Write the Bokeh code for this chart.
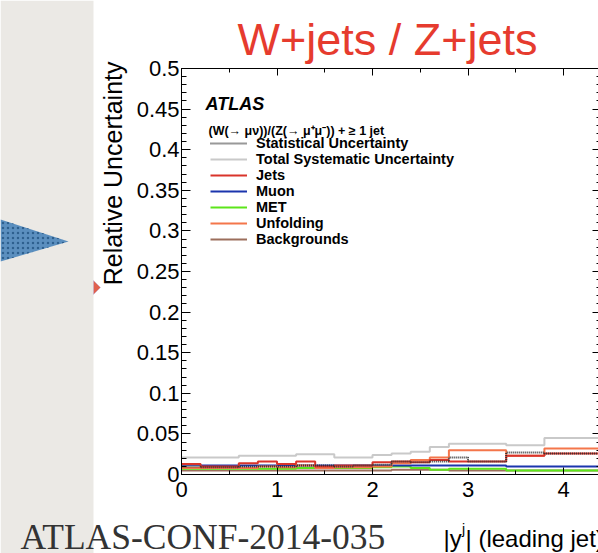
import numpy as np
from bokeh.plotting import figure
from bokeh.models import (LinearAxis, FixedTicker, Label, Legend, LegendItem,
                          BoxAnnotation, PolyAnnotation, Range1d)
from bokeh.embed import file_html
from bokeh.resources import INLINE

# ---------------- data ----------------
bin_edges = [0.0, 0.2, 0.4, 0.6, 0.8, 1.0, 1.2, 1.4, 1.6, 1.8, 2.0, 2.2, 2.4,
             2.6, 2.8, 3.0, 3.4, 3.8, 4.4]
stat_unc = [0.010, 0.009, 0.009, 0.010, 0.010, 0.010, 0.011, 0.011, 0.010,
            0.011, 0.012, 0.016, 0.015, 0.016, 0.021, 0.016, 0.027, 0.026]
total_syst = [0.021, 0.021, 0.021, 0.023, 0.023, 0.023, 0.025, 0.025, 0.021,
              0.021, 0.024, 0.026, 0.028, 0.034, 0.038, 0.038, 0.036, 0.045]
jets = [0.013, 0.010, 0.010, 0.014, 0.016, 0.013, 0.016, 0.010, 0.011,
        0.011, 0.015, 0.016, 0.015, 0.018, 0.016, 0.016, 0.023, 0.026]
muon = [0.012, 0.011, 0.011, 0.011, 0.011, 0.011, 0.011, 0.011, 0.011,
        0.011, 0.011, 0.011, 0.011, 0.011, 0.011, 0.011, 0.010, 0.010]
met = [0.007, 0.007, 0.007, 0.007, 0.007, 0.007, 0.008, 0.008, 0.008,
       0.008, 0.009, 0.010, 0.008, 0.006, 0.007, 0.007, 0.005, 0.005]
unfolding = [0.008, 0.008, 0.008, 0.008, 0.010, 0.009, 0.011, 0.008, 0.009,
             0.009, 0.010, 0.014, 0.018, 0.021, 0.030, 0.030, 0.023, 0.032]
backgrounds = [0.005, 0.005, 0.005, 0.005, 0.005, 0.005, 0.005, 0.005, 0.005,
               0.005, 0.005, 0.006, 0.006, 0.006, 0.005, 0.005, 0.005, 0.005]

series_labels = ["Statistical Uncertainty", "Total Systematic Uncertainty",
                 "Jets", "Muon", "MET", "Unfolding", "Backgrounds"]

y_ticks = [0, 0.05, 0.1, 0.15, 0.2, 0.25, 0.3, 0.35, 0.4, 0.45, 0.5]
y_tick_labels = ["0", "0.05", "0.1", "0.15", "0.2", "0.25", "0.3", "0.35",
                 "0.4", "0.45", "0.5"]
x_ticks = [0, 1, 2, 3, 4]
x_tick_labels = ["0", "1", "2", "3", "4"]

# ---------------- layout constants (window pixels) ----------------
W, H = 598, 553
X0PX, Y0PX = 181, 474          # pixel of data (0, 0)
KX, KY = 95.5, 812.0           # pixels per data unit
XLIM, YLIM = 4.4, 0.5          # histogram box
BASE_SHIFT = 0.32              # em offset of Bokeh's alphabetic anchor


def X(wx):
    return (wx - X0PX) / KX


def Y(wy):
    return (Y0PX - wy) / KY


FONT = "Liberation Sans"

p = figure(width=W, height=H, output_backend="svg", toolbar_location=None,
           x_range=Range1d(X(0), X(W)), y_range=Range1d(Y(H), Y(0)),
           min_border=0, min_border_left=0, min_border_right=0,
           min_border_top=0, min_border_bottom=0,
           x_axis_location=None, y_axis_location=None)
p.grid.visible = False
p.outline_line_color = None
p.background_fill_color = "white"
p.border_fill_color = "white"

y_minor = [round(0.01 * i, 2) for i in range(51)]
x_minor = [0.5, 1.5, 2.5, 3.5]


def make_axis(ticks, minor, labels, loc, bounds, show, tin, tmin):
    ax = LinearAxis(ticker=FixedTicker(ticks=ticks, minor_ticks=minor),
                    fixed_location=loc, bounds=bounds)
    ax.major_tick_in = tin
    ax.major_tick_out = 0
    ax.minor_tick_in = tmin
    ax.minor_tick_out = 0
    ax.axis_line_color = "black"
    ax.axis_line_width = 1
    ax.major_tick_line_color = "black"
    ax.minor_tick_line_color = "black"
    if show:
        ax.major_label_overrides = dict(zip(ticks, labels))
        ax.major_label_text_font = FONT
        ax.major_label_text_font_size = "22px"
        ax.major_label_text_color = "black"
    else:
        ax.major_label_text_color = None
    return ax


ax_l = make_axis(y_ticks, y_minor, y_tick_labels, 0, (0, YLIM), True, 9, 5)
ax_l.major_label_standoff = 2
ax_r = make_axis(y_ticks, y_minor, y_tick_labels, XLIM, (0, YLIM), False, 9, 5)
ax_b = make_axis(x_ticks, x_minor, x_tick_labels, 0, (0, XLIM), True, 7, 4)
ax_b.major_label_standoff = 7
ax_t = make_axis(x_ticks, x_minor, x_tick_labels, YLIM, (0, XLIM), False, 7, 4)
p.add_layout(ax_l, "left")
p.add_layout(ax_r, "right")
p.add_layout(ax_b, "below")
p.add_layout(ax_t, "above")

# ---------------- decorations (behind) ----------------
p.add_layout(BoxAnnotation(left=X(0), right=X(93), bottom=Y(H), top=Y(0),
                           fill_color="#ebe9e5", fill_alpha=1, line_alpha=0,
                           level="underlay"))
p.add_layout(PolyAnnotation(xs=[X(0), X(68), X(0)], ys=[Y(219), Y(241), Y(261)],
                            fill_color="#5b8fbf", fill_alpha=1, line_alpha=0,
                            hatch_pattern="dot", hatch_color="#2e5f8f",
                            hatch_scale=5, level="underlay"))
p.add_layout(PolyAnnotation(xs=[X(93), X(100), X(93)], ys=[Y(280), Y(287), Y(294)],
                            fill_color="#e0604e", fill_alpha=1, line_color="#9aa8ee",
                            line_width=1, level="underlay"))

# ---------------- histograms ----------------
def stepy(v):
    return list(v) + [v[-1]]


r_tot = p.step(bin_edges, stepy(total_syst), mode="after", line_color="#c9c9c9", line_width=2)
r_bkg = p.step(bin_edges, stepy(backgrounds), mode="after", line_color="#9c6e5c", line_width=2)
r_met = p.step(bin_edges, stepy(met), mode="after", line_color="#5ce51a", line_width=2)
r_muo = p.step(bin_edges, stepy(muon), mode="after", line_color="#1b35ad", line_width=2)
r_unf = p.step(bin_edges, stepy(unfolding), mode="after", line_color="#f4764b", line_width=2)
r_jet = p.step(bin_edges, stepy(jets), mode="after", line_color="#d9342b", line_width=2)
r_sta = p.step(bin_edges, stepy(stat_unc), mode="after", line_color="#333333",
               line_width=2, line_dash="1 1")

rends = [r_sta, r_tot, r_jet, r_muo, r_met, r_unf, r_bkg]
legend = Legend(items=[LegendItem(label=l, renderers=[r]) for l, r in zip(series_labels, rends)],
                location=(210, H - 246.5))
legend.padding = 0
legend.margin = 0
legend.spacing = 0
legend.glyph_width = 37
legend.glyph_height = 16
legend.label_height = 16
legend.label_standoff = 9
legend.border_line_alpha = 0
legend.background_fill_alpha = 0
legend.label_text_font = FONT
legend.label_text_font_style = "bold"
legend.label_text_font_size = "14.5px"
legend.label_text_color = "black"
p.add_layout(legend, "center")


def lab(x, y, text, size, **kw):
    """x, y: window pixel of the text's baseline anchor."""
    opts = dict(text_font=FONT, text_font_size=f"{size}px", text_color="black",
                text_baseline="alphabetic", text_align="left")
    opts.update(kw)
    if "angle" in kw:
        x = x - BASE_SHIFT * size
    else:
        y = y - BASE_SHIFT * size
    p.add_layout(Label(x=X(x), y=Y(y), text=text, **opts))


lab(387, 53, "W+jets / Z+jets", 45, text_align="center", text_color="#e63b2e")
lab(205, 109, "ATLAS", 18, text_font_style="bold italic")
lab(208, 134.5, "(W(\u2192 \u03bc\u03bd))/(Z(\u2192 \u03bc\u207a\u03bc\u207b)) + \u2265 1 jet",
    12.5, text_font_style="bold")
lab(120, 61, "Relative Uncertainty", 25, angle=np.pi / 2, text_align="right")
lab(443, 546, "|y", 24)
lab(461.5, 533, "j", 14)
lab(465, 546, "| (leading jet)", 24)
lab(20, 548, "ATLAS-CONF-2014-035", 35.5, text_font="Liberation Serif",
    text_color="#333333")

open("out.html", "w").write(file_html(p, INLINE))
